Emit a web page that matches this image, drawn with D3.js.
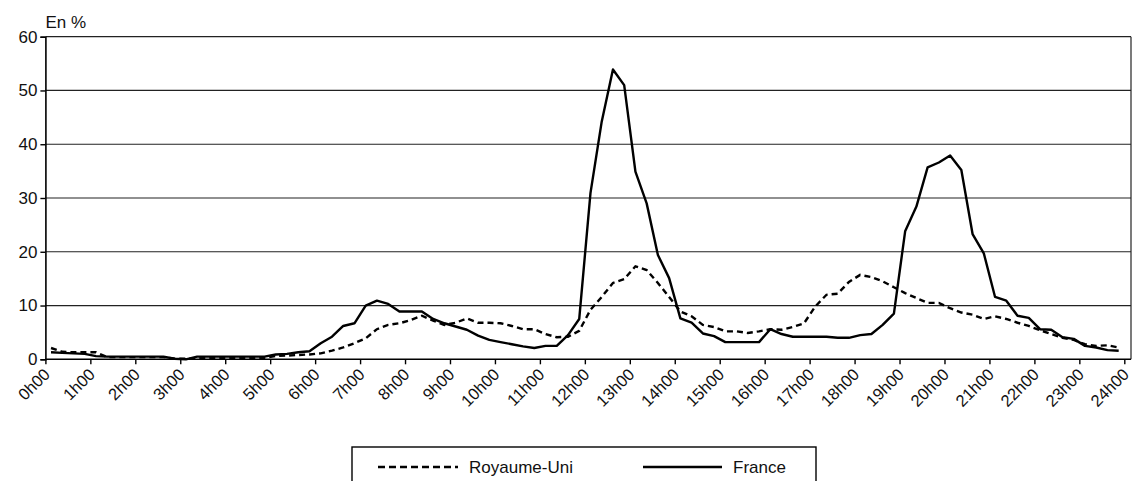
<!DOCTYPE html>
<html>
<head>
<meta charset="utf-8">
<script src="https://cdn.jsdelivr.net/npm/d3@7"></script>
<style>
  html, body { margin: 0; padding: 0; background: #fff; }
  svg { display: block; font-family: "Liberation Sans", Arial, sans-serif; }
</style>
</head>
<body>
<svg id="chart" width="1133" height="481"></svg>
<script>
// Hour tick labels (axis at every hour, 4 quarter-hour slots per hour)
const hourLabels = ["0h00","1h00","2h00","3h00","4h00","5h00","6h00","7h00","8h00","9h00","10h00","11h00","12h00",
  "13h00","14h00","15h00","16h00","17h00","18h00","19h00","20h00","21h00","22h00","23h00","24h00"];
const yTicks = [0, 10, 20, 30, 40, 50, 60];
const seriesNames = ["Royaume-Uni", "France"];

// Quarter-hour values, in % (96 slots from 0h00 to 24h00)
const royaumeUni = [
  2.1, 1.4, 1.3, 1.3, 1.3, 0.4, 0.4, 0.4, 0.4, 0.4, 0.4, 0.1,
  0.1, 0.2, 0.2, 0.2, 0.2, 0.2, 0.2, 0.3, 0.6, 0.7, 0.8, 0.9,
  1.1, 1.6, 2.2, 3.0, 3.9, 5.6, 6.4, 6.7, 7.3, 8.1, 7.2, 6.4,
  6.8, 7.6, 6.8, 6.8, 6.7, 6.2, 5.6, 5.6, 4.7, 4.1, 4.2, 5.3,
  9.2, 11.6, 14.2, 14.9, 17.3, 16.6, 14.2, 11.6, 8.9, 8.0, 6.4, 6.0,
  5.2, 5.2, 4.9, 5.2, 5.6, 5.5, 6.0, 6.7, 9.8, 12.0, 12.2, 14.4,
  15.7, 15.3, 14.5, 13.4, 12.3, 11.4, 10.5, 10.5, 9.5, 8.7, 8.3, 7.5,
  8.0, 7.5, 6.8, 6.2, 5.4, 4.7, 4.0, 3.6, 2.8, 2.5, 2.6, 2.2
];
const france = [
  1.3, 1.2, 1.1, 1.0, 0.6, 0.5, 0.5, 0.5, 0.5, 0.5, 0.5, 0.1,
  0.0, 0.5, 0.5, 0.5, 0.5, 0.5, 0.5, 0.5, 0.9, 1.0, 1.3, 1.5,
  3.0, 4.2, 6.2, 6.7, 10.0, 10.9, 10.3, 8.9, 8.9, 8.9, 7.5, 6.7,
  6.1, 5.5, 4.4, 3.6, 3.2, 2.8, 2.4, 2.1, 2.5, 2.5, 4.5, 7.5,
  30.9, 44.2, 53.9, 51.0, 34.9, 29.0, 19.4, 15.1, 7.6, 6.8, 4.8, 4.3,
  3.2, 3.2, 3.2, 3.2, 5.6, 4.7, 4.2, 4.2, 4.2, 4.2, 4.0, 4.0,
  4.5, 4.7, 6.4, 8.5, 23.8, 28.4, 35.7, 36.6, 37.9, 35.2, 23.3, 19.7,
  11.6, 10.9, 8.1, 7.7, 5.6, 5.5, 4.1, 3.8, 2.5, 2.2, 1.7, 1.6
];

(function () {
const svg = d3.select("#chart");
const mLeft = 45.4, mRight = 1124.3, frameRight = 1131, mTop = 36.7, mBottom = 359.3;

const x = d3.scaleLinear().domain([0, 96]).range([mLeft, mRight]);
const y = d3.scaleLinear().domain([0, 60]).range([mBottom, mTop]);

// gridlines
svg.append("g").selectAll("line").data(yTicks.filter(d => d > 0)).join("line")
  .attr("x1", mLeft).attr("x2", frameRight)
  .attr("y1", d => y(d)).attr("y2", d => y(d))
  .attr("stroke", "#222").attr("stroke-width", 1.2);

// right frame
svg.append("line").attr("x1", frameRight).attr("x2", frameRight)
  .attr("y1", mTop).attr("y2", mBottom).attr("stroke", "#222").attr("stroke-width", 1.2);

// Y axis
const yAxis = svg.append("g").attr("transform", `translate(${mLeft},0)`)
  .call(d3.axisLeft(y).tickValues(yTicks).tickSize(5).tickFormat(d3.format("d")));
yAxis.select(".domain").attr("stroke", "#000").attr("stroke-width", 1.6);
yAxis.selectAll(".tick line").attr("stroke", "#000").attr("stroke-width", 1.4);
yAxis.selectAll(".tick text").attr("font-size", 17).attr("fill", "#111")
  .attr("x", -8).attr("font-family", "'Liberation Sans', Arial, sans-serif");

// X axis
const xAxis = svg.append("g").attr("transform", `translate(0,${mBottom})`)
  .call(d3.axisBottom(x).tickValues(hourLabels.map((d, i) => i * 4)).tickSize(5)
    .tickFormat((d, i) => hourLabels[i]));
xAxis.select(".domain").remove();
xAxis.append("line").attr("x1", mLeft).attr("x2", frameRight).attr("y1", 0).attr("y2", 0)
  .attr("stroke", "#000").attr("stroke-width", 1.6);
xAxis.selectAll(".tick line").attr("stroke", "#000").attr("stroke-width", 1.4);
xAxis.selectAll(".tick text")
  .attr("font-size", 16.5).attr("fill", "#111")
  .attr("font-family", "'Liberation Sans', Arial, sans-serif")
  .attr("text-anchor", "end")
  .attr("x", 0).attr("y", 0).attr("dy", "0.35em")
  .attr("transform", "translate(1,12) rotate(-45)");

// unit label
svg.append("text").attr("x", mLeft).attr("y", 28).attr("font-size", 17).attr("fill", "#111")
  .text("En %");

// lines
const line = d3.line().x((d, i) => x(i + 0.5)).y(d => y(d));
svg.append("path").datum(royaumeUni).attr("d", line)
  .attr("fill", "none").attr("stroke", "#000").attr("stroke-width", 2.4)
  .attr("stroke-dasharray", "6,4");
svg.append("path").datum(france).attr("d", line)
  .attr("fill", "none").attr("stroke", "#000").attr("stroke-width", 2.4)
  .attr("stroke-linejoin", "round");

// legend
const lg = svg.append("g");
lg.append("rect").attr("x", 352).attr("y", 447).attr("width", 464).attr("height", 60)
  .attr("fill", "#fff").attr("stroke", "#000").attr("stroke-width", 1.4);
const legendItems = [
  { name: seriesNames[0], x0: 378, x1: 458, tx: 469, dash: "7,4" },
  { name: seriesNames[1], x0: 643, x1: 722, tx: 733, dash: null }
];
legendItems.forEach(it => {
  lg.append("line").attr("x1", it.x0).attr("x2", it.x1).attr("y1", 467).attr("y2", 467)
    .attr("stroke", "#000").attr("stroke-width", 2.4)
    .attr("stroke-dasharray", it.dash);
  lg.append("text").attr("x", it.tx).attr("y", 473).attr("font-size", 17).attr("fill", "#111")
    .text(it.name);
});
})();
</script>
</body>
</html>
